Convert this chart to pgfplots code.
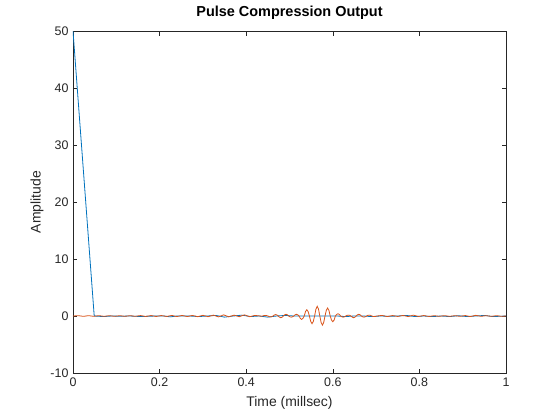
\documentclass[border=0pt]{standalone}
\usepackage{pgfplots}
\pgfplotsset{compat=1.18}
\usepackage{fontspec}
\setmainfont{Liberation Sans}
\definecolor{mblue}{rgb}{0,0.447,0.741}
\definecolor{morange}{rgb}{0.850,0.325,0.098}
\definecolor{axgray}{rgb}{0.15,0.15,0.15}
\begin{document}
\begin{tikzpicture}
\path[use as bounding box] (-73bp,-47bp) rectangle (487bp,373bp);
\begin{axis}[
  at={(0,0)}, anchor=south west,
  scale only axis,
  width=433bp, height=342bp,
  xmin=0, xmax=1, ymin=-10, ymax=50,
  xtick={0,0.2,0.4,0.6,0.8,1},
  ytick={-10,0,10,20,30,40,50},
  xticklabels={0,0.2,0.4,0.6,0.8,1},
  tick align=inside,
  xtick pos=both, ytick pos=both,
  major tick length=4.5bp,
  axis line style={axgray, line width=0.5bp},
  every tick/.style={axgray, line width=0.5bp},
  tick label style={font=\fontsize{12.5}{14}\selectfont, text=axgray},
  /pgf/number format/assume math mode=true,
  xticklabel style={yshift=-1bp},
  yticklabel style={xshift=-1bp},
  title={\bfseries Pulse Compression Output},
  title style={font=\fontsize{14.5}{16}\selectfont, at={(axis description cs:0.5,1.035)}, anchor=center},
  xlabel={Time (millsec)},
  ylabel={Amplitude},
  label style={font=\fontsize{14}{16}\selectfont, text=axgray},
  xlabel style={at={(axis description cs:0.5,-0.0877)}, anchor=center},
  ylabel style={at={(axis description cs:-0.0831,0.5)}, anchor=center},
  clip=true,
]
% blue series
\addplot[mblue, line width=0.8bp] coordinates {
(0,50) (0.049,0) (0.07,-0.1) (0.09,0) (0.11,-0.05) (0.13,0) (0.16,-0.1) (0.19,0)
(0.21,0) (0.225,-0.15) (0.24,0) (0.27,0) (0.29,-0.1) (0.31,0) (0.33,0.1) (0.35,-0.2)
(0.37,0) (0.39,0.15) (0.41,-0.1) (0.43,0) (0.45,-0.2) (0.47,0) (0.49,0.1) (0.51,0)
(0.53,0) (0.55,0) (0.57,0) (0.59,0) (0.61,0) (0.63,-0.1) (0.65,0) (0.67,0)
(0.69,-0.1) (0.71,0) (0.73,-0.05) (0.75,0) (0.77,0.1) (0.79,-0.1) (0.81,0) (0.83,-0.1)
(0.85,0) (0.87,-0.1) (0.89,0.05) (0.91,-0.1) (0.93,0) (0.95,0.1) (0.97,-0.1) (1,0)
};
% orange series
\addplot[morange, line width=0.8bp] coordinates {
(0,0) (0.012,0.06) (0.024,-0.06) (0.036,0.06) (0.048,-0.06) (0.060,0.06) (0.072,-0.06)
(0.084,0.06) (0.096,-0.06) (0.108,0.06) (0.120,-0.06) (0.132,0.06) (0.144,-0.06)
(0.156,0.08) (0.168,-0.08) (0.180,0.08) (0.192,-0.08) (0.204,0.08) (0.216,-0.08)
(0.228,0.1) (0.240,-0.1) (0.252,0.1) (0.264,-0.1) (0.276,0.1) (0.288,-0.12)
(0.300,0.12) (0.312,-0.12) (0.324,0.15) (0.336,-0.15) (0.348,0.2) (0.360,-0.15)
(0.372,0.15) (0.384,-0.12) (0.396,0.2) (0.408,-0.12) (0.420,0.1) (0.432,0)
(0.435,-0.05) (0.438,0) (0.441,0.07) (0.444,0.1) (0.447,0.07) (0.450,0)
(0.453,-0.11) (0.456,-0.15) (0.459,-0.11) (0.462,0) (0.465,0.18) (0.468,0.25)
(0.471,0.18) (0.474,0) (0.477,-0.21) (0.480,-0.3) (0.483,-0.21) (0.486,0)
(0.489,0.21) (0.492,0.3) (0.495,0.21) (0.498,0) (0.501,-0.14) (0.504,-0.2)
(0.507,-0.14) (0.510,0) (0.513,0.21) (0.516,0.3) (0.519,0.21) (0.522,0)
(0.525,-0.42) (0.528,-0.6) (0.531,-0.42) (0.534,0) (0.537,0.78) (0.540,1.1)
(0.543,0.78) (0.546,0) (0.549,-0.95) (0.552,-1.35) (0.555,-0.95) (0.558,0)
(0.561,1.2) (0.564,1.7) (0.567,1.2) (0.570,0) (0.573,-1.13) (0.576,-1.6)
(0.579,-1.13) (0.582,0) (0.585,0.99) (0.588,1.4) (0.591,0.99) (0.594,0)
(0.597,-0.71) (0.600,-1.0) (0.603,-0.71) (0.606,0) (0.609,0.28) (0.612,0.4)
(0.615,0.28) (0.618,0) (0.621,-0.14) (0.624,-0.2) (0.627,-0.14) (0.630,0)
(0.633,0.11) (0.636,0.15) (0.639,0.11) (0.642,0) (0.645,-0.21) (0.648,-0.3)
(0.651,-0.21) (0.654,0) (0.657,0.21) (0.660,0.3) (0.663,0.21) (0.666,0)
(0.669,-0.14) (0.672,-0.2) (0.675,-0.14) (0.678,0) (0.681,0.11) (0.684,0.15)
(0.687,0.11) (0.690,0) (0.693,-0.07) (0.696,-0.1) (0.699,-0.07) (0.702,0)
(0.714,0.1) (0.726,-0.1) (0.738,0.08) (0.750,-0.08) (0.762,0.1) (0.774,-0.1)
(0.786,0.15) (0.798,-0.08) (0.810,0.08) (0.822,-0.08) (0.834,0.06) (0.846,-0.06)
(0.858,0.06) (0.870,-0.06) (0.882,0.06) (0.894,-0.06) (0.906,0.08) (0.918,-0.1)
(0.930,0.12) (0.942,-0.06) (0.954,0.06) (0.966,-0.06) (0.978,0.06) (0.990,-0.06) (1,0)
};
\end{axis}
\end{tikzpicture}
\end{document}
